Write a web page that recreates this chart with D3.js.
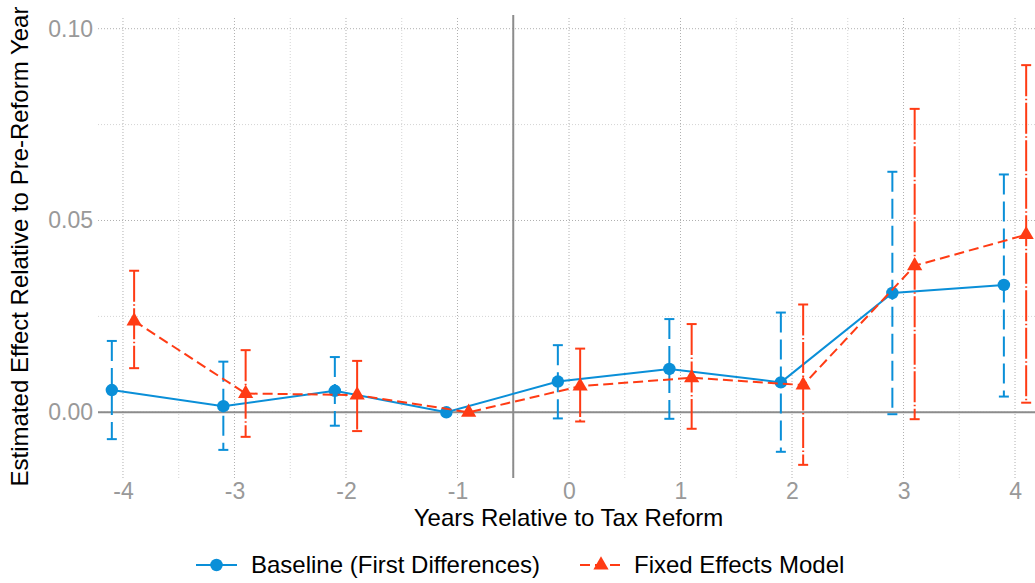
<!DOCTYPE html>
<html>
<head>
<meta charset="utf-8">
<script src="https://cdn.jsdelivr.net/npm/d3@7"></script>
<style>
  html, body { margin: 0; padding: 0; background: #fff; }
  svg { display: block; }
  text { font-family: "Liberation Sans", Arial, Helvetica, sans-serif; }
</style>
</head>
<body>
<svg id="chart" width="1035" height="583"></svg>
<script>
// ---- data ----
const years = [-4, -3, -2, -1, 0, 1, 2, 3, 4];
const baselineEst = [0.0058, 0.0016, 0.0056, 0.0000, 0.0080, 0.0113, 0.0078, 0.0311, 0.0332];
const baselineLo  = [-0.0070, -0.0098, -0.0035, 0.0000, -0.0016, -0.0017, -0.0103, -0.0005, 0.0041];
const baselineHi  = [0.0186, 0.0132, 0.0144, 0.0000, 0.0175, 0.0243, 0.0260, 0.0627, 0.0620];
const feEst = [0.0238, 0.0049, 0.0045, 0.0000, 0.0068, 0.0090, 0.0071, 0.0382, 0.0463];
const feLo  = [0.0115, -0.0064, -0.0049, 0.0000, -0.0024, -0.0043, -0.0137, -0.0018, 0.0025];
const feHi  = [0.0369, 0.0162, 0.0134, 0.0000, 0.0166, 0.0230, 0.0281, 0.0791, 0.0905];
const yTicks = [0.00, 0.05, 0.10];
const yMinor = [0.025, 0.075];
const xMinor = [-3.5, -2.5, -1.5, -0.5, 0.5, 1.5, 2.5, 3.5];
const seriesNames = ["Baseline (First Differences)", "Fixed Effects Model"];
const dodge = 0.1;

const blue = "#0a8fd8";
const red = "#ff3b14";

const svg = d3.select("#chart");
const panel = { left: 98, right: 1040, top: 15, bottom: 478 };

const x = d3.scaleLinear().domain([-4.224, 4.224]).range([panel.left, panel.right]);
const y = d3.scaleLinear().domain([-0.01713, 0.10357]).range([panel.bottom, panel.top]);

// ---- grid ----
const g = svg.append("g");
g.selectAll(".vminor").data(xMinor).enter().append("line")
  .attr("x1", d => x(d)).attr("x2", d => x(d))
  .attr("y1", panel.top + 3).attr("y2", panel.bottom)
  .attr("stroke", "#d4d4d4").attr("stroke-width", 1).attr("stroke-dasharray", "1,2");
g.selectAll(".vmajor").data(years).enter().append("line")
  .attr("x1", d => x(d)).attr("x2", d => x(d))
  .attr("y1", panel.top + 3).attr("y2", panel.bottom)
  .attr("stroke", "#b0b0b0").attr("stroke-width", 1).attr("stroke-dasharray", "1,2");
g.selectAll(".hminor").data(yMinor).enter().append("line")
  .attr("x1", panel.left).attr("x2", panel.right)
  .attr("y1", d => y(d)).attr("y2", d => y(d))
  .attr("stroke", "#d4d4d4").attr("stroke-width", 1).attr("stroke-dasharray", "1,2");
g.selectAll(".hmajor").data(yTicks).enter().append("line")
  .attr("x1", panel.left).attr("x2", panel.right)
  .attr("y1", d => y(d)).attr("y2", d => y(d))
  .attr("stroke", "#b0b0b0").attr("stroke-width", 1).attr("stroke-dasharray", "1,2");

// zero line and reform line
g.append("line").attr("x1", panel.left).attr("x2", panel.right)
  .attr("y1", y(0)).attr("y2", y(0))
  .attr("stroke", "#8c8c8c").attr("stroke-width", 2);
g.append("line").attr("x1", x(-0.5)).attr("x2", x(-0.5))
  .attr("y1", panel.top).attr("y2", panel.bottom)
  .attr("stroke", "#8c8c8c").attr("stroke-width", 2);

// ---- axes (labels only) ----
const xAxis = svg.append("g").attr("transform", `translate(0,${panel.bottom})`)
  .call(d3.axisBottom(x).tickValues(years).tickSize(0).tickPadding(5).tickFormat(d3.format("d")));
xAxis.select(".domain").remove();
xAxis.selectAll("text").attr("font-size", 23).attr("fill", "#999999")
  .attr("font-family", "Liberation Sans, Arial, sans-serif")
  .text(d => (d < 0 ? "-" + Math.abs(d) : String(d)));

const yAxis = svg.append("g").attr("transform", `translate(${panel.left},0)`)
  .call(d3.axisLeft(y).tickValues(yTicks).tickSize(0).tickPadding(5).tickFormat(d3.format(".2f")));
yAxis.select(".domain").remove();
yAxis.selectAll("text").attr("font-size", 23).attr("fill", "#999999")
  .attr("font-family", "Liberation Sans, Arial, sans-serif");

// ---- series ----
function drawSeries(est, lo, hi, color, off, lineDash, barDash, shape) {
  const data = years.map((yr, i) => ({ x: yr + off, est: est[i], lo: lo[i], hi: hi[i] }));
  const s = svg.append("g");
  const bars = data.filter(d => d.hi !== d.lo);
  s.selectAll(".bar").data(bars).enter().append("line")
    .attr("x1", d => x(d.x)).attr("x2", d => x(d.x))
    .attr("y1", d => y(d.hi)).attr("y2", d => y(d.lo))
    .attr("stroke", color).attr("stroke-width", 2).attr("stroke-dasharray", barDash);
  ["hi", "lo"].forEach(k => {
    s.selectAll(".cap" + k).data(bars).enter().append("line")
      .attr("x1", d => x(d.x) - 5).attr("x2", d => x(d.x) + 5)
      .attr("y1", d => y(d[k])).attr("y2", d => y(d[k]))
      .attr("stroke", color).attr("stroke-width", 2);
  });
  s.append("path").datum(data)
    .attr("d", d3.line().x(d => x(d.x)).y(d => y(d.est)))
    .attr("fill", "none").attr("stroke", color).attr("stroke-width", 2)
    .attr("stroke-dasharray", lineDash);
  s.selectAll(".pt").data(data).enter().append("path")
    .attr("transform", d => `translate(${x(d.x)},${y(d.est)})`)
    .attr("d", d3.symbol().type(shape).size(shape === d3.symbolCircle ? 122 : 100))
    .attr("fill", color);
}
drawSeries(baselineEst, baselineLo, baselineHi, blue, -dodge, null, "20,7", d3.symbolCircle);
drawSeries(feEst, feLo, feHi, red, dodge, "10,5", "31,2.5,1.5,2.5", d3.symbolTriangle);

// ---- titles ----
svg.append("text").attr("x", 568.5).attr("y", 526).attr("text-anchor", "middle")
  .attr("font-size", 24).attr("fill", "#000").text("Years Relative to Tax Reform");
svg.append("text").attr("transform", `translate(28,${(panel.top + panel.bottom) / 2}) rotate(-90)`)
  .attr("text-anchor", "middle").attr("font-size", 24).attr("fill", "#000")
  .text("Estimated Effect Relative to Pre-Reform Year");

// ---- legend ----
const leg = svg.append("g");
const legY = 565;
leg.append("line").attr("x1", 196).attr("x2", 237).attr("y1", legY).attr("y2", legY)
  .attr("stroke", blue).attr("stroke-width", 2);
leg.append("path").attr("transform", `translate(216.5,${legY})`)
  .attr("d", d3.symbol().type(d3.symbolCircle).size(122)).attr("fill", blue);
leg.append("text").attr("x", 251).attr("y", legY + 8).attr("font-size", 24).attr("fill", "#000")
  .text(seriesNames[0]);
leg.append("line").attr("x1", 580).attr("x2", 622).attr("y1", legY).attr("y2", legY)
  .attr("stroke", red).attr("stroke-width", 2).attr("stroke-dasharray", "10,5");
leg.append("path").attr("transform", `translate(601,${legY})`)
  .attr("d", d3.symbol().type(d3.symbolTriangle).size(100)).attr("fill", red);
leg.append("text").attr("x", 634).attr("y", legY + 8).attr("font-size", 24).attr("fill", "#000")
  .text(seriesNames[1]);
</script>
</body>
</html>
